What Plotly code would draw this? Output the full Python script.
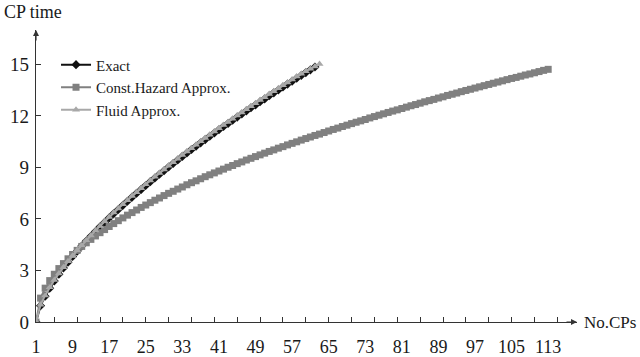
import plotly.graph_objects as go

exact = [0, 0.95, 1.50, 1.97, 2.39, 2.78, 3.14, 3.48, 3.81, 4.12, 4.42, 4.71, 4.99, 5.27, 5.54,
         5.80, 6.06, 6.31, 6.55, 6.79, 7.03, 7.27, 7.50, 7.72, 7.95, 8.17, 8.38, 8.60, 8.81,
         9.02, 9.23, 9.43, 9.64, 9.84, 10.04, 10.23, 10.43, 10.62, 10.81, 11.00, 11.19, 11.38,
         11.56, 11.75, 11.93, 12.11, 12.29, 12.47, 12.64, 12.82, 12.99, 13.17, 13.34, 13.51,
         13.68, 13.85, 14.02, 14.19, 14.35, 14.52, 14.68, 14.85]

const_hazard = [0, 1.39, 1.97, 2.41, 2.78, 3.11, 3.40, 3.68, 3.93, 4.17, 4.40, 4.61, 4.81, 5.01,
                5.20, 5.38, 5.56, 5.73, 5.90, 6.06, 6.22, 6.37, 6.52, 6.67, 6.81, 6.95, 7.09,
                7.22, 7.36, 7.49, 7.61, 7.74, 7.86, 7.99, 8.11, 8.22, 8.34, 8.46, 8.57, 8.68,
                8.79, 8.90, 9.01, 9.11, 9.22, 9.32, 9.43, 9.53, 9.63, 9.73, 9.83, 9.93, 10.02,
                10.12, 10.21, 10.31, 10.40, 10.49, 10.59, 10.68, 10.77, 10.86, 10.94, 11.03,
                11.12, 11.21, 11.29, 11.38, 11.46, 11.55, 11.63, 11.71, 11.79, 11.88, 11.96,
                12.04, 12.12, 12.20, 12.28, 12.35, 12.43, 12.51, 12.59, 12.66, 12.74, 12.82,
                12.89, 12.96, 13.04, 13.11, 13.19, 13.26, 13.33, 13.41, 13.48, 13.55, 13.62,
                13.69, 13.76, 13.83, 13.90, 13.97, 14.04, 14.11, 14.18, 14.24, 14.31, 14.38,
                14.44, 14.51, 14.58, 14.65, 14.71]

fluid = [0, 1.00, 1.55, 2.02, 2.44, 2.83, 3.19, 3.53, 3.86, 4.17, 4.47, 4.76, 5.04, 5.32, 5.59,
         5.86, 6.12, 6.37, 6.61, 6.85, 7.09, 7.33, 7.56, 7.79, 8.02, 8.24, 8.45, 8.67, 8.88,
         9.09, 9.30, 9.51, 9.72, 9.92, 10.12, 10.32, 10.52, 10.71, 10.90, 11.09, 11.28, 11.47,
         11.65, 11.84, 12.02, 12.20, 12.38, 12.56, 12.74, 12.92, 13.09, 13.27, 13.44, 13.61,
         13.78, 13.95, 14.12, 14.29, 14.46, 14.60, 14.74, 14.88, 15.02]

x_labels = [1, 9, 17, 25, 33, 41, 49, 57, 65, 73, 81, 89, 97, 105, 113]
x_minor = [5, 10, 15, 20, 25, 30, 35, 40, 45, 50, 55, 60, 65, 70, 75, 80, 85, 90, 95, 100, 105, 110, 115]
y_ticks = [0, 3, 6, 9, 12, 15]

FONT = "Liberation Serif"
AX = "#333333"
TXT = "#1a1a1a"

fig = go.Figure()
fig.add_trace(go.Scatter(x=list(range(1, len(exact) + 1)), y=exact, name="Exact",
                         mode="lines+markers", line=dict(color="#111111", width=2),
                         marker=dict(symbol="diamond", size=7, color="#111111")))
fig.add_trace(go.Scatter(x=list(range(1, len(const_hazard) + 1)), y=const_hazard,
                         name="Const.Hazard Approx.", mode="lines+markers",
                         line=dict(color="#808080", width=2),
                         marker=dict(symbol="square", size=7, color="#808080")))
fig.add_trace(go.Scatter(x=list(range(1, len(fluid) + 1)), y=fluid, name="Fluid Approx.",
                         mode="lines+markers", line=dict(color="#a8a8a8", width=2),
                         marker=dict(symbol="triangle-up", size=7, color="#a8a8a8")))

fig.update_layout(
    width=640, height=357,
    margin=dict(l=36, r=63, t=30, b=34.5),
    paper_bgcolor="white", plot_bgcolor="white",
    font=dict(family=FONT, size=18, color=TXT),
    showlegend=True,
    legend=dict(x=0.037, y=0.937, xanchor="left", yanchor="top",
                bgcolor="rgba(0,0,0,0)", font=dict(size=15, family=FONT, color=TXT),
                itemwidth=30, tracegroupgap=0),
    xaxis=dict(range=[1, 119.3], tickmode="array", tickvals=x_labels,
               ticktext=[str(v) for v in x_labels], ticks="", showgrid=False,
               zeroline=False, showline=True, linecolor=AX, linewidth=1.2,
               automargin=False, ticklabelstandoff=8,
               tickfont=dict(size=18, family=FONT, color=TXT)),
    xaxis2=dict(range=[1, 119.3], overlaying="x", anchor="y", side="bottom",
                tickmode="array", tickvals=x_minor, ticks="inside", ticklen=5,
                tickcolor=AX, tickwidth=1, showticklabels=False, showgrid=False,
                zeroline=False, showline=False, automargin=False),
    yaxis=dict(range=[0, 17], tickmode="array", tickvals=y_ticks, ticks="inside",
               ticklen=5, tickcolor=AX, showgrid=False, zeroline=False, showline=True,
               linecolor=AX, linewidth=1.2, automargin=False, ticklabelstandoff=2,
               tickfont=dict(size=19, family=FONT, color=TXT)),
)

fig.add_trace(go.Scatter(x=[1], y=[0], xaxis="x2", mode="markers", opacity=0,
                         showlegend=False, hoverinfo="skip"))

# axis arrows
fig.add_annotation(xref="paper", yref="paper", x=0, y=1, ax=0, ay=12, axref="pixel", ayref="pixel",
                   text="", showarrow=True, arrowhead=2, arrowsize=1, arrowwidth=1.2, arrowcolor=AX)
fig.add_annotation(xref="paper", yref="paper", x=1, y=0, ax=-12, ay=0, axref="pixel", ayref="pixel",
                   text="", showarrow=True, arrowhead=2, arrowsize=1, arrowwidth=1.2, arrowcolor=AX)

fig.add_annotation(xref="paper", yref="paper", x=-0.062, y=1.06, xanchor="left", yanchor="middle",
                   text="CP time", showarrow=False, font=dict(size=18, family=FONT, color=TXT))
fig.add_annotation(xref="paper", yref="paper", x=1.01, y=0.0, xanchor="left", yanchor="middle",
                   text="No.CPs", showarrow=False, font=dict(size=17, family=FONT, color=TXT))

fig.write_html("out.html", config={"displayModeBar": False},
               post_script="document.body.style.margin='0px';")
